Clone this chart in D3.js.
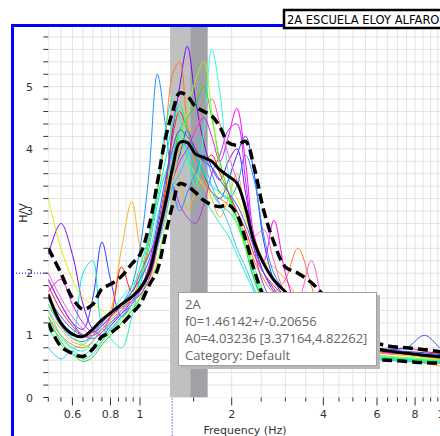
<!DOCTYPE html>
<html>
<head>
<meta charset="utf-8">
<script src="https://cdn.jsdelivr.net/npm/d3@7"></script>
<style>
  body { margin: 0; background: #fff; }
  svg { display: block; font-family: "DejaVu Sans", sans-serif; }
</style>
</head>
<body>
<div class="chart"></div>
<script>
// H/V curves, one per time window, plus mean and +/- std curves

var freqs = [0.5, 0.55, 0.6, 0.65, 0.7, 0.75, 0.8, 0.87, 0.94, 1.0, 1.07, 1.14, 1.21, 1.28, 1.35, 1.43,
  1.52, 1.62, 1.72, 1.83, 1.95, 2.08, 2.22, 2.37, 2.55, 2.75, 3.0, 3.3, 3.65, 4.0, 4.5, 5.0, 5.7, 6.5,
  7.5, 8.6, 10, 11.5];

var windowColors = ['#7f00ff', '#2a3cff', '#00e0e0', '#ffb020', '#ff7a20', '#e8e800', '#1e90ff', '#30ffd0',
  '#20e020', '#ff00ff', '#b030ff', '#ff2020', '#90ff20', '#00ff90', '#30c8ff', '#20f0c0', '#3c5aff', '#ff60c0'];

var windowValues = [
  [2.3, 2.8, 2.3, 1.5, 1.1, 1.0, 1.15, 1.35, 1.55, 1.75, 2.1, 2.7, 3.4, 4.3, 5.0, 5.65, 4.8, 4.1, 3.7, 3.5, 3.8, 4.0, 3.3, 2.5, 2.0, 1.75, 1.5, 1.3, 1.12, 1.0, 0.9, 0.83, 0.77, 0.72, 0.69, 0.66, 0.63, 0.6],
  [1.9, 1.5, 1.2, 1.1, 1.6, 2.5, 1.9, 1.3, 1.5, 1.7, 2.0, 2.6, 3.2, 3.6, 3.9, 4.3, 3.9, 3.6, 3.3, 3.2, 3.5, 3.9, 4.2, 3.6, 2.5, 1.9, 1.6, 1.4, 1.2, 1.05, 0.92, 0.85, 0.8, 0.77, 0.74, 0.72, 0.68, 0.66],
  [1.6, 1.2, 1.0, 2.0, 2.2, 1.2, 1.1, 1.3, 1.5, 1.8, 2.4, 3.1, 3.6, 3.9, 4.2, 4.0, 3.7, 3.5, 3.3, 3.1, 3.0, 2.8, 2.4, 1.9, 1.6, 1.4, 1.25, 1.1, 0.95, 0.85, 0.75, 0.7, 0.66, 0.63, 0.62, 0.6, 0.58, 0.57],
  [1.4, 1.1, 0.9, 0.85, 1.0, 1.2, 1.4, 2.4, 3.15, 2.4, 1.9, 2.4, 3.2, 3.8, 3.5, 3.0, 3.3, 3.5, 3.2, 2.9, 3.2, 3.6, 3.0, 2.6, 2.2, 2.1, 1.9, 1.6, 1.3, 1.1, 0.9, 0.8, 0.72, 0.66, 0.6, 0.55, 0.5, 0.52],
  [1.3, 1.0, 0.85, 0.8, 0.9, 1.1, 1.2, 1.4, 1.6, 1.9, 2.5, 3.3, 4.2, 5.2, 5.4, 4.4, 3.8, 3.5, 3.3, 3.2, 3.1, 2.9, 2.6, 2.2, 1.9, 1.7, 1.9, 2.4, 1.8, 1.2, 0.9, 0.8, 0.74, 0.7, 0.68, 0.65, 0.62, 0.6],
  [3.2, 2.4, 1.9, 1.6, 1.5, 1.4, 1.3, 1.45, 1.6, 1.75, 2.0, 2.6, 3.3, 3.7, 4.0, 3.8, 3.6, 3.4, 3.2, 3.3, 3.4, 3.2, 2.9, 2.5, 2.2, 1.9, 1.7, 1.5, 1.3, 1.1, 0.95, 0.85, 0.78, 0.72, 0.68, 0.64, 0.6, 0.58],
  [1.5, 1.15, 0.95, 0.9, 1.0, 1.15, 1.3, 1.5, 1.8, 2.4, 3.6, 5.2, 4.4, 3.4, 3.0, 3.3, 3.6, 3.9, 3.6, 3.3, 3.2, 3.4, 3.9, 3.5, 2.6, 2.0, 1.7, 1.45, 1.25, 1.1, 0.95, 0.86, 0.8, 0.76, 0.72, 0.7, 0.67, 0.65],
  [1.2, 0.95, 0.8, 0.85, 1.0, 1.2, 1.35, 1.6, 1.8, 1.95, 2.3, 2.9, 3.4, 3.8, 4.2, 3.8, 3.4, 4.3, 5.6, 4.9, 3.6, 2.9, 2.5, 2.1, 1.7, 1.45, 1.25, 1.1, 0.98, 0.9, 0.8, 0.74, 0.7, 0.66, 0.64, 0.62, 0.6, 0.58],
  [1.3, 0.9, 0.7, 0.58, 0.65, 0.85, 1.0, 1.2, 1.4, 1.6, 2.0, 2.5, 3.1, 3.7, 4.3, 4.5, 4.7, 5.0, 4.5, 3.8, 3.3, 2.9, 2.4, 1.9, 1.5, 1.25, 1.05, 0.92, 0.82, 0.75, 0.68, 0.64, 0.62, 0.6, 0.58, 0.56, 0.55, 0.54],
  [1.7, 1.9, 1.5, 1.2, 1.05, 1.15, 1.3, 1.45, 1.55, 1.65, 1.9, 2.4, 3.0, 3.5, 3.8, 4.0, 4.3, 4.5, 4.2, 3.8, 4.2, 4.65, 3.8, 2.6, 2.2, 2.85, 2.0, 1.4, 1.1, 0.95, 0.85, 0.8, 0.76, 0.72, 0.7, 0.68, 0.65, 0.63],
  [1.9, 1.5, 1.2, 1.0, 0.95, 1.05, 1.2, 1.35, 1.5, 1.7, 2.1, 2.6, 3.2, 3.4, 3.1, 2.9, 2.8, 3.1, 3.6, 3.9, 4.3, 4.4, 3.5, 2.4, 1.8, 1.5, 1.3, 1.2, 1.3, 1.45, 1.5, 0.95, 0.8, 0.74, 0.71, 0.68, 0.64, 0.62],
  [1.8, 1.4, 1.15, 1.0, 1.0, 1.1, 1.3, 2.1, 1.7, 2.0, 2.3, 2.6, 3.3, 4.2, 4.6, 4.3, 4.0, 3.8, 3.9, 3.6, 3.3, 3.0, 2.7, 2.3, 2.0, 1.8, 1.6, 1.4, 1.2, 1.05, 0.92, 0.86, 0.8, 0.76, 0.8, 0.74, 0.7, 0.68],
  [1.5, 1.2, 1.0, 0.85, 0.8, 0.9, 1.05, 1.25, 1.45, 1.6, 1.8, 2.2, 2.8, 3.5, 4.0, 4.6, 5.1, 5.4, 4.6, 3.7, 3.2, 2.8, 2.4, 2.0, 1.7, 1.5, 1.3, 1.15, 1.0, 0.9, 0.8, 0.74, 0.7, 0.66, 0.64, 0.62, 0.6, 0.58],
  [1.1, 0.85, 0.7, 0.68, 0.8, 1.0, 1.2, 1.4, 1.7, 2.1, 2.6, 3.2, 3.8, 4.4, 4.7, 4.3, 3.9, 3.6, 3.4, 3.3, 3.2, 2.9, 2.5, 2.0, 1.6, 1.35, 1.15, 1.0, 0.9, 0.82, 0.74, 0.7, 0.67, 0.64, 0.62, 0.6, 0.58, 0.56],
  [0.8, 0.62, 0.75, 0.62, 0.7, 0.9, 1.1, 1.3, 1.5, 1.7, 2.0, 2.4, 2.9, 3.4, 3.6, 3.9, 4.2, 3.8, 3.4, 3.1, 2.8, 2.4, 2.1, 1.75, 1.4, 1.2, 1.05, 0.92, 0.82, 0.75, 0.68, 0.64, 0.62, 0.6, 0.58, 0.57, 0.56, 0.55],
  [1.4, 1.0, 0.8, 0.75, 0.9, 1.1, 0.95, 0.8, 1.3, 1.9, 2.6, 3.4, 4.3, 4.8, 4.5, 3.9, 3.5, 3.2, 3.0, 2.8, 2.6, 2.3, 2.0, 1.7, 1.45, 1.25, 1.1, 0.98, 0.88, 0.8, 0.72, 0.68, 0.65, 0.62, 0.6, 0.58, 0.57, 0.56],
  [1.6, 1.3, 1.1, 1.0, 1.05, 1.2, 1.35, 1.5, 1.7, 1.9, 2.2, 2.8, 3.5, 4.0, 4.3, 4.2, 4.0, 3.8, 3.7, 3.5, 3.3, 3.1, 2.8, 2.4, 2.0, 1.7, 1.5, 1.3, 1.12, 1.0, 0.9, 0.84, 0.8, 0.78, 0.8, 1.0, 0.74, 0.7],
  [2.0, 1.6, 1.3, 1.1, 1.0, 1.1, 1.25, 1.4, 1.55, 1.7, 2.0, 2.5, 3.0, 3.6, 4.0, 4.1, 4.3, 4.6, 4.8, 4.4, 3.9, 3.5, 3.1, 2.6, 2.7, 2.2, 1.7, 1.6, 2.2, 1.5, 1.0, 0.85, 0.78, 0.74, 0.7, 0.68, 0.64, 0.62]
];

var meanHV = [1.66, 1.2, 1.02, 0.98, 1.1, 1.25, 1.36, 1.5, 1.62, 1.75, 2.0, 2.55, 3.1, 3.7, 4.1, 4.1, 3.92, 3.86, 3.8,
  3.66, 3.56, 3.45, 3.05, 2.5, 2.15, 1.89, 1.7, 1.48, 1.28, 1.12, 0.96, 0.88, 0.8, 0.75, 0.71, 0.68, 0.65, 0.64];
var upperHV = [2.4, 2.0, 1.6, 1.42, 1.5, 1.75, 1.82, 1.95, 2.15, 2.3, 2.75, 3.45, 4.15, 4.6, 4.9, 4.85, 4.68, 4.6, 4.53,
  4.35, 4.1, 4.06, 4.12, 3.7, 3.0, 2.5, 2.1, 2.0, 1.85, 1.65, 1.38, 1.15, 0.92, 0.83, 0.8, 0.77, 0.73, 0.72];
var lowerHV = [1.2, 0.82, 0.71, 0.66, 0.78, 0.98, 1.04, 1.18, 1.35, 1.5, 1.8, 2.05, 2.6, 3.1, 3.44, 3.4, 3.3, 3.17, 3.1,
  3.07, 3.1, 2.95, 2.55, 2.05, 1.62, 1.38, 1.2, 1.02, 0.88, 0.78, 0.69, 0.64, 0.61, 0.6, 0.58, 0.56, 0.55, 0.54];

var f0 = 1.46142, f0Std = 0.20656;
var xTickLabels = [0.6, 0.8, 1, 2, 4, 6, 8, 10];
var yTickLabels = [0, 1, 2, 3, 4, 5];
var stationName = '2A ESCUELA ELOY ALFARO';
var infoLines = ['2A', 'f0=1.46142+/-0.20656', 'A0=4.03236 [3.37164,4.82262]', 'Category: Default'];
var cursorF = 1.275, cursorV = 2;

var width = 440, height = 436;
var plotLeft = 48.3, plotTop = 27, plotBottom = 397.5;

var x = d3.scaleLog().domain([0.5, 10]).range([plotLeft, 444.6]);
var y = d3.scaleLinear().domain([0, 5.96]).range([plotBottom, plotTop]);

var svg = d3.select('.chart').append('svg')
  .attr('width', width)
  .attr('height', height);

svg.append('defs').append('clipPath').attr('id', 'plot')
  .append('rect').attr('x', plotLeft).attr('y', plotTop)
  .attr('width', width - plotLeft).attr('height', plotBottom - plotTop);

var minorX = d3.range(0.5, 0.999, 0.05).concat(d3.range(1, 10.01, 0.5));
var gridY = d3.range(0, 5.9, 0.2);

var grid = svg.append('g').attr('clip-path', 'url(#plot)');
grid.selectAll('line.gx').data(minorX).enter().append('line')
  .attr('x1', function(d) { return x(d); }).attr('x2', function(d) { return x(d); })
  .attr('y1', plotTop).attr('y2', plotBottom)
  .attr('stroke', '#e3e3e3');
grid.selectAll('line.gy').data(gridY).enter().append('line')
  .attr('x1', plotLeft).attr('x2', width)
  .attr('y1', function(d) { return y(d); }).attr('y2', function(d) { return y(d); })
  .attr('stroke', '#e3e3e3');

// f0 band
grid.append('rect')
  .attr('x', x(f0 - f0Std)).attr('width', x(f0) - x(f0 - f0Std))
  .attr('y', plotTop).attr('height', plotBottom - plotTop)
  .attr('fill', '#c0c0c0');
grid.append('rect')
  .attr('x', x(f0)).attr('width', x(f0 + f0Std) - x(f0))
  .attr('y', plotTop).attr('height', plotBottom - plotTop)
  .attr('fill', '#a2a2a6');

var line = d3.line()
  .x(function(d, i) { return x(freqs[i]); })
  .y(function(d) { return y(d); })
  .curve(d3.curveCatmullRom);

var curves = svg.append('g').attr('clip-path', 'url(#plot)');
curves.selectAll('path.win').data(windowValues).enter().append('path')
  .attr('d', line)
  .attr('fill', 'none')
  .attr('stroke', function(d, i) { return windowColors[i]; })
  .attr('stroke-width', 1);

curves.append('path').attr('d', line(meanHV))
  .attr('fill', 'none').attr('stroke', '#000').attr('stroke-width', 3);
[upperHV, lowerHV].forEach(function(v) {
  curves.append('path').attr('d', line(v))
    .attr('fill', 'none').attr('stroke', '#000').attr('stroke-width', 3.5)
    .attr('stroke-dasharray', '10,5');
});

// axes ticks
var axisColor = '#333';
svg.selectAll('line.ty').data(gridY).enter().append('line')
  .attr('x1', plotLeft - 5).attr('x2', plotLeft)
  .attr('y1', function(d) { return y(d); }).attr('y2', function(d) { return y(d); })
  .attr('stroke', axisColor);
svg.selectAll('text.ly').data(yTickLabels).enter().append('text')
  .attr('x', 33).attr('y', function(d) { return y(d) + 4; })
  .attr('text-anchor', 'end').attr('font-size', 11).attr('fill', axisColor)
  .text(function(d) { return d; });

svg.selectAll('line.tx').data(minorX.filter(function(d) { return x(d) < width; })).enter().append('line')
  .attr('x1', function(d) { return x(d); }).attr('x2', function(d) { return x(d); })
  .attr('y1', plotBottom).attr('y2', function(d) {
    return xTickLabels.some(function(t) { return Math.abs(t - d) < 1e-6; }) ? plotBottom + 8 : plotBottom + 4;
  })
  .attr('stroke', axisColor);
svg.selectAll('text.lx').data(xTickLabels).enter().append('text')
  .attr('x', function(d) { return x(d); }).attr('y', 418)
  .attr('text-anchor', 'middle').attr('font-size', 11).attr('fill', axisColor)
  .text(function(d) { return d; });

svg.append('text').attr('x', 245).attr('y', 434)
  .attr('text-anchor', 'middle').attr('font-size', 11).attr('fill', axisColor)
  .text('Frequency (Hz)');
svg.append('text').attr('transform', 'translate(27,213) rotate(-90)')
  .attr('text-anchor', 'middle').attr('font-size', 11).attr('fill', axisColor)
  .text('H/V');

// cursor marks
svg.append('line').attr('x1', 13).attr('x2', plotLeft).attr('y1', y(cursorV)).attr('y2', y(cursorV))
  .attr('stroke', '#0000ff').attr('stroke-dasharray', '1,2');
svg.append('line').attr('x1', x(cursorF)).attr('x2', x(cursorF)).attr('y1', plotBottom + 1).attr('y2', height)
  .attr('stroke', '#0000ff').attr('stroke-dasharray', '1,2');

// info box
var tip = svg.append('g');
tip.append('rect').attr('x', 181).attr('y', 295).attr('width', 199).attr('height', 74).attr('fill', '#b8b8b8');
tip.append('rect').attr('x', 178.5).attr('y', 292.5).attr('width', 198).attr('height', 73)
  .attr('fill', '#fff').attr('stroke', '#a0a0a0');
tip.selectAll('text').data(infoLines).enter().append('text')
  .attr('x', 185).attr('y', function(d, i) { return 309 + i * 17; })
  .attr('font-family', 'Open Sans, sans-serif').attr('font-size', 13).attr('fill', '#666')
  .text(function(d) { return d; });

// title box and frame
svg.append('rect').attr('x', 12.5).attr('y', 25.5).attr('width', 500).attr('height', 500)
  .attr('fill', 'none').attr('stroke', '#0000ff').attr('stroke-width', 3);
svg.append('rect').attr('x', 284).attr('y', 10).attr('width', 200).attr('height', 18)
  .attr('fill', '#fff').attr('stroke', '#000').attr('stroke-width', 2.5);
svg.append('text').attr('x', 287).attr('y', 24).attr('font-size', 11.5).attr('fill', '#000')
  .text(stationName);
</script>
</body>
</html>
